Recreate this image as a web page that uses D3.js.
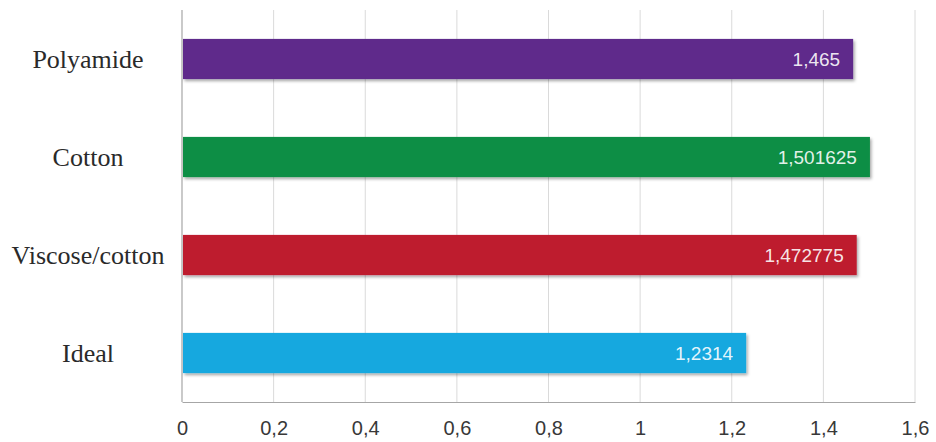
<!DOCTYPE html>
<html>
<head>
<meta charset="utf-8">
<script src="https://cdn.jsdelivr.net/npm/d3@7/dist/d3.min.js"></script>
<style>
  html, body { margin: 0; padding: 0; background: #fff; }
  svg { display: block; }
</style>
</head>
<body>
<svg id="chart" width="936" height="442"></svg>
<script>
// Fabric categories, top to bottom
const categories = ["Polyamide", "Cotton", "Viscose/cotton", "Ideal"];
const values = [1.465, 1.501625, 1.472775, 1.2314];
const valueLabels = ["1,465", "1,501625", "1,472775", "1,2314"];
const colors = ["#5e2b8b", "#0b8e45", "#be1e2f", "#13a8df"];
const xTicks = [0, 0.2, 0.4, 0.6, 0.8, 1, 1.2, 1.4, 1.6];

const svg = d3.select("#chart");
const margin = { top: 10, right: 21, bottom: 40, left: 182 };
const width = 936 - margin.left - margin.right;
const height = 442 - margin.top - margin.bottom;

const defs = svg.append("defs");
const shadow = defs.append("filter").attr("id", "barShadow")
  .attr("x", "-5%").attr("y", "-20%").attr("width", "115%").attr("height", "160%");
shadow.append("feDropShadow")
  .attr("dx", 1.5).attr("dy", 2).attr("stdDeviation", 1.5)
  .attr("flood-color", "#000").attr("flood-opacity", 0.35);

const g = svg.append("g").attr("transform", `translate(${margin.left},${margin.top})`);

const x = d3.scaleLinear().domain([0, 1.6]).range([0, width]);
const y = d3.scaleBand().domain(categories).range([0, height]).paddingInner(0.59).paddingOuter(0.295);

// vertical grid lines
g.selectAll("line.grid").data(xTicks.slice(1)).join("line")
  .attr("class", "grid")
  .attr("x1", d => x(d)).attr("x2", d => x(d))
  .attr("y1", 0).attr("y2", height)
  .attr("stroke", "#dadada").attr("stroke-width", 1);

// bottom axis line and tick labels
const xAxis = d3.axisBottom(x).tickValues(xTicks).tickSize(0).tickPadding(19)
  .tickFormat(d => d3.format("~g")(d).replace(".", ","));
const xg = g.append("g").attr("transform", `translate(0,${height})`).call(xAxis);
xg.select(".domain").attr("stroke", "#a6a6a6").attr("stroke-width", 1.2);
xg.selectAll("text")
  .attr("font-family", "'Liberation Sans', Arial, sans-serif")
  .attr("font-size", 20).attr("fill", "#383838");

// left axis line
g.append("line")
  .attr("x1", 0).attr("x2", 0).attr("y1", 0).attr("y2", height)
  .attr("stroke", "#a6a6a6").attr("stroke-width", 1.2);

// bars
const rows = categories.map((c, i) => ({ c, v: values[i], label: valueLabels[i], color: colors[i] }));
g.selectAll("rect.bar").data(rows).join("rect")
  .attr("class", "bar")
  .attr("x", x(0) + 1)
  .attr("y", d => y(d.c))
  .attr("width", d => x(d.v) - x(0) - 1)
  .attr("height", y.bandwidth())
  .attr("fill", d => d.color)
  .attr("filter", "url(#barShadow)");

// value labels inside bar ends
g.selectAll("text.val").data(rows).join("text")
  .attr("class", "val")
  .attr("x", d => x(d.v) - 13)
  .attr("y", d => y(d.c) + y.bandwidth() / 2)
  .attr("dy", "0.35em")
  .attr("text-anchor", "end")
  .attr("font-family", "'Liberation Sans', Arial, sans-serif")
  .attr("font-size", 19)
  .attr("fill", "#ffffff").attr("fill-opacity", 0.9)
  .text(d => d.label);

// category labels
svg.selectAll("text.cat").data(categories).join("text")
  .attr("class", "cat")
  .attr("x", 88)
  .attr("y", d => margin.top + y(d) + y.bandwidth() / 2)
  .attr("dy", "0.35em")
  .attr("text-anchor", "middle")
  .attr("font-family", "'Liberation Serif', 'Times New Roman', serif")
  .attr("font-size", 26)
  .attr("fill", "#2a2a2a")
  .text(d => d);
</script>
</body>
</html>
